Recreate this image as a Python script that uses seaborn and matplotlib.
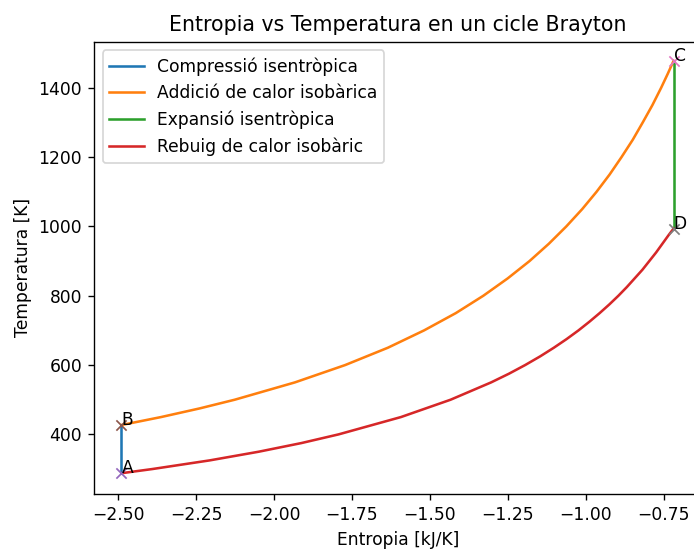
import matplotlib
matplotlib.use("Agg")
import matplotlib.pyplot as plt
import seaborn as sns

# Point states (entropy kJ/K, temperature K)
point_names = ["A", "B", "C", "D"]
point_s = [-2.489, -2.489, -0.719, -0.719]
point_T = [288, 427, 1478, 994]

# Process curves
comp_s = [-2.489, -2.489]
comp_T = [288, 427]

heat_s = [-2.489, -2.362, -2.238, -2.126, -1.933, -1.772, -1.635, -1.519, -1.417,
          -1.329, -1.251, -1.181, -1.119, -1.063, -1.012, -0.966, -0.924, -0.886,
          -0.850, -0.818, -0.787, -0.759, -0.738, -0.719]
heat_T = [427, 450, 475, 500, 550, 600, 650, 700, 750,
          800, 850, 900, 950, 1000, 1050, 1100, 1150, 1200,
          1250, 1300, 1350, 1400, 1440, 1478]

exp_s = [-0.719, -0.719]
exp_T = [1478, 994]

rej_s = [-0.719, -0.735, -0.755, -0.775, -0.797, -0.819, -0.844, -0.869, -0.896,
         -0.925, -0.956, -0.989, -1.024, -1.062, -1.103, -1.147, -1.195, -1.247,
         -1.304, -1.434, -1.593, -1.793, -1.912, -2.049, -2.206, -2.390, -2.489]
rej_T = [994, 975, 950, 925, 900, 875, 850, 825, 800,
         775, 750, 725, 700, 675, 650, 625, 600, 575,
         550, 500, 450, 400, 375, 350, 325, 300, 288]

labels = ["Compressió isentròpica", "Addició de calor isobàrica",
          "Expansió isentròpica", "Rebuig de calor isobàric"]

dpi = 123
fig = plt.figure(figsize=(694 / dpi, 551 / dpi), dpi=dpi)
ax = fig.add_axes([94 / 694, 57 / 551, 608 / 694, 452.3 / 551])

series = [(comp_s, comp_T), (heat_s, heat_T), (exp_s, exp_T), (rej_s, rej_T)]
for i, ((xs, ys), lab) in enumerate(zip(series, labels)):
    sns.lineplot(x=xs, y=ys, estimator=None, sort=False, color=f"C{i}",
                 label=lab, ax=ax, linewidth=1.5)

for j, (name, s, T) in enumerate(zip(point_names, point_s, point_T)):
    sns.scatterplot(x=[s], y=[T], marker="x", color=f"C{4 + j}", s=36,
                    linewidth=1.0, ax=ax, legend=False, zorder=3)
    ax.text(s, T, name, fontsize=10)

ax.set_xlim(-2.577, -0.628)
ax.set_ylim(228, 1533)
ax.set_xlabel("Entropia [kJ/K]")
ax.set_ylabel("Temperatura [K]")
ax.set_title("Entropia vs Temperatura en un cicle Brayton", fontsize=12)
ax.legend(loc="upper left")

fig.savefig("out.png", dpi=dpi)
